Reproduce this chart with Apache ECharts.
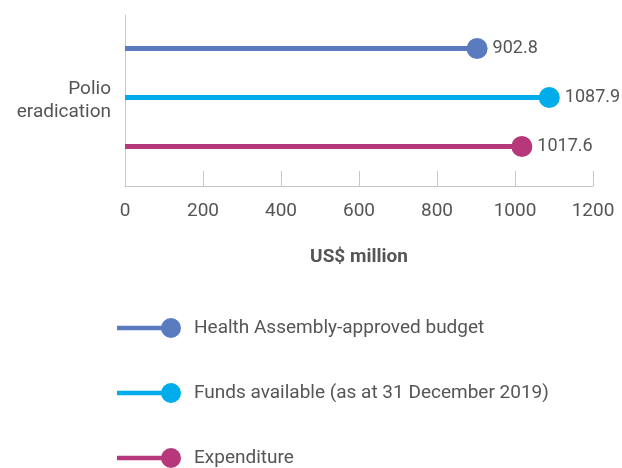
<!DOCTYPE html>
<html>
<head>
<meta charset="utf-8">
<script src="https://cdn.jsdelivr.net/npm/echarts@6/dist/echarts.min.js"></script>
<style>
  html, body { margin: 0; padding: 0; background: #fff; }
  #main { width: 622px; height: 468px; }
</style>
</head>
<body>
<div id="main"></div>
<script>
// data
var categories = ['Polio\neradication']
var seriesNames = ['Health Assembly-approved budget', 'Funds available (as at 31 December 2019)', 'Expenditure']
var budget = [902.8]
var funds = [1087.9]
var expenditure = [1017.6]
var xTicks = [0, 200, 400, 600, 800, 1000, 1200]

var colors = ['#5a7bbf', '#00acea', '#b7377b']
var values = [budget, funds, expenditure]
var font = 'Roboto'
var grey = '#555'

// legend icon: line + dot (both drawn clockwise so they don't cut each other)
var icon = 'path://M0,7.8h48v4.4H0z M44,10a10,10 0 1,1 20,0a10,10 0 1,1 -20,0z'

var series = []
seriesNames.forEach(function (name, i) {
  series.push({
    name: name,
    type: 'bar',
    xAxisIndex: 1,
    yAxisIndex: 1,
    barWidth: 5,
    barGap: '-100%',
    itemStyle: { color: colors[i] },
    data: [[values[i][0], name]],
    silent: true
  })
  series.push({
    name: name,
    type: 'scatter',
    xAxisIndex: 1,
    yAxisIndex: 1,
    symbolSize: 21,
    itemStyle: { color: colors[i], opacity: 1 },
    label: {
      show: true,
      position: 'right',
      distance: 5,
      color: grey,
      fontSize: 18,
      fontFamily: font,
      formatter: function (p) { return p.value[0] }
    },
    data: [[values[i][0], name]],
    z: 3
  })
})

var xRange = { type: 'value', min: xTicks[0], max: xTicks[xTicks.length - 1], interval: 200 }

var myChart = echarts.init(document.getElementById('main'))
myChart.setOption({
  animation: false,
  textStyle: { fontFamily: font },
  grid: [
    { left: 125, right: 29, top: 15, bottom: 282 },
    { left: 125, right: 29, top: 24, bottom: 297 }
  ],
  legend: {
    orient: 'vertical',
    left: 117,
    top: 318,
    height: 160,
    padding: 0,
    itemWidth: 64,
    itemHeight: 20,
    itemGap: 45,
    icon: icon,
    data: seriesNames.map(function (n) { return { name: n, icon: icon } }),
    textStyle: { color: grey, fontSize: 19, fontFamily: font, padding: [0, 0, 0, 8] },
    selectedMode: false
  },
  xAxis: [
    Object.assign({}, xRange, {
      gridIndex: 0,
      name: 'US$ million',
      nameLocation: 'middle',
      nameGap: 62,
      nameTextStyle: { color: grey, fontSize: 19, fontWeight: 'bold', fontFamily: font },
      axisLine: { show: true, lineStyle: { color: '#c8c8c8', width: 1 } },
      axisTick: { show: true, inside: true, length: 15, lineStyle: { color: '#c8c8c8' } },
      axisLabel: { color: grey, fontSize: 19, fontFamily: font, margin: 16, formatter: function (v) { return String(v) } },
      splitLine: { show: false }
    }),
    Object.assign({}, xRange, {
      gridIndex: 1,
      show: false,
      splitLine: { show: false }
    })
  ],
  yAxis: [
    {
      type: 'category',
      gridIndex: 0,
      data: categories,
      axisLine: { show: true, onZero: false, lineStyle: { color: '#c8c8c8', width: 1 } },
      axisTick: { show: false },
      axisLabel: { color: grey, fontSize: 19, fontFamily: font, margin: 14, align: 'right', lineHeight: 23 }
    },
    {
      type: 'category',
      gridIndex: 1,
      data: seriesNames,
      inverse: true,
      show: false
    }
  ],
  series: series
})
</script>
</body>
</html>
